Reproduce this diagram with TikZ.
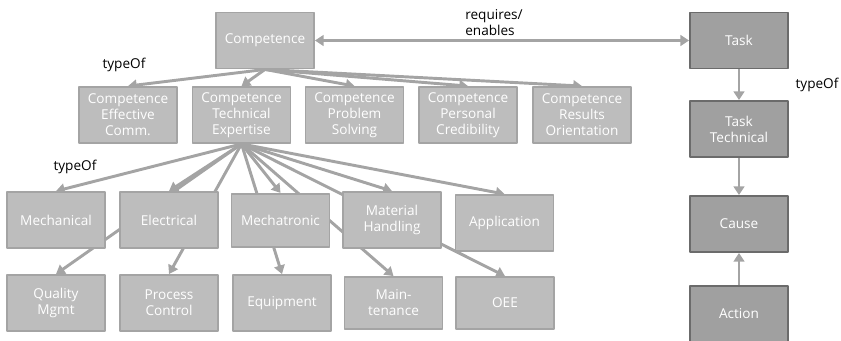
\documentclass[tikz,border=0pt]{standalone}
\usepackage{fontspec}
\setmainfont{Open Sans}
\usepackage{tikz}
\usetikzlibrary{arrows.meta,backgrounds}
\definecolor{BoxFill}{HTML}{BDBDBD}
\definecolor{BoxLine}{HTML}{A4A4A4}
\definecolor{TaskFill}{HTML}{A0A0A0}
\definecolor{TaskLine}{HTML}{6B6B6B}
\newcommand{\LinkColor}{BoxLine}

\begin{document}
\begin{tikzpicture}[line join=round,>={Triangle[length=6.5pt,width=8pt]}
  ,x=0.75pt,y=-0.75pt
  ,comp/.style={draw=BoxLine,fill=BoxFill,line width=1.4pt,text=white,
    minimum width=73.5pt,minimum height=42pt,inner sep=1pt,align=center,
    font=\fontsize{10.2}{12}\selectfont}
  ,task/.style={comp,draw=TaskLine,fill=TaskFill}
  ,link/.style={->,draw=\LinkColor,line width=2.2pt}
  ,lbl/.style={font=\fontsize{10.2}{12}\selectfont,align=left,inner sep=0pt}]
  \clip (0,0) rectangle (841,340);
  % competence tree
  \node[comp] (comp) at (265,40.5) {Competence};
  \node[comp] (eff) at (128,115) {Competence\\Effective\\Comm.};
  \node[comp] (tech) at (241.5,115) {Competence\\Technical\\Expertise};
  \node[comp] (prob) at (354.5,115) {Competence\\Problem\\Solving};
  \node[comp] (pers) at (468,115) {Competence\\Personal\\Credibility};
  \node[comp] (resu) at (582,115) {Competence\\Results\\Orientation};
  \node[comp] (mech) at (56,220) {Mechanical};
  \node[comp] (elec) at (169,220) {Electrical};
  \node[comp,minimum height=40pt] (mtro) at (280.5,220.5) {Mechatronic};
  \node[comp] (matl) at (392,220) {Material\\Handling};
  \node[comp] (appl) at (504.5,223) {Application};
  \node[comp] (qual) at (56,303) {Quality\\Mgmt};
  \node[comp] (proc) at (169,303) {Process\\Control};
  \node[comp] (equi) at (282,303) {Equipment};
  \node[comp,minimum height=39pt] (main) at (393.5,303) {Main-\\tenance};
  \node[comp,minimum height=39pt] (oee) at (505,303) {OEE};
  % task chain
  \node[task] (task) at (739,40.5) {Task};
  \node[task] (ttech) at (739,129) {Task\\Technical};
  \node[task] (cause) at (739,224) {Cause};
  \node[task] (act) at (739,314) {Action};
  \begin{scope}[on background layer]
    \foreach \t in {eff,tech,prob,pers,resu}
      \draw[link] (comp.south) -- (\t.north);
    \foreach \t in {mech,elec,mtro,matl,appl,qual,proc,equi,main,oee}
      \draw[link] (tech.south) -- (\t.north);
  \end{scope}
  \draw[link,<->] (comp.east) -- (task.west);
  \draw[link] (task.south) -- (ttech.north);
  \draw[link] (ttech.south) -- (cause.north);
  \draw[link] (act.north) -- (cause.south);
  \node[lbl] (req) at (494,23) {requires/\\enables};
  \node[lbl] (typ1) at (124,65) {typeOf};
  \node[lbl] (typ2) at (75,167) {typeOf};
  \node[lbl] (typ3) at (817,85) {typeOf};
\end{tikzpicture}
\end{document}
